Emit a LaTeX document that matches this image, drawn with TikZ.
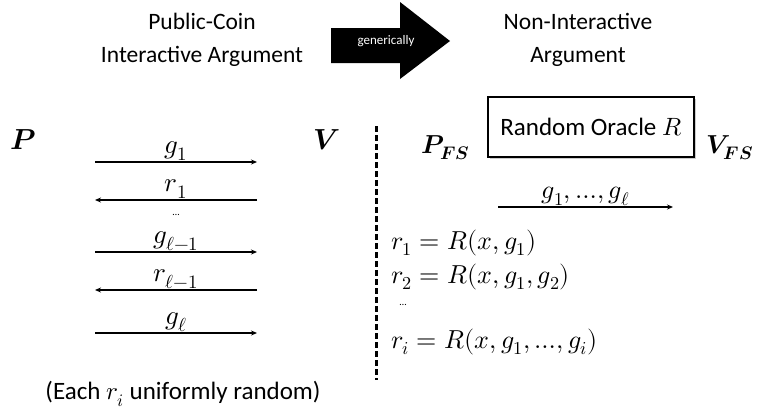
\documentclass[tikz,border=0pt]{standalone}
\usepackage{fontspec}
\usepackage{unicode-math}
\setmainfont{Carlito}
\setmathfont{Latin Modern Math}
\usetikzlibrary{arrows.meta,shadows}
\begin{document}
\begin{tikzpicture}[x=1pt,y=-1pt,
  msg/.style={line width=1.2pt,-{Stealth[length=6pt,width=5pt]}},
  title/.style={font=\fontsize{23.5}{33}\selectfont,align=center,inner sep=0pt},
  party/.style={font=\fontsize{29}{32}\selectfont,inner sep=0pt},
  fsparty/.style={font=\fontsize{26}{30}\selectfont,inner sep=0pt,anchor=west},
  lab/.style={font=\fontsize{27}{28}\selectfont,inner sep=1pt},
  eq/.style={font=\fontsize{26}{28}\selectfont,inner sep=0pt,anchor=west}]
\useasboundingbox (0,0) rectangle (760,413);
% titles
\node[title] (left) at (202,40) {Public-Coin\\Interactive Argument};
\node[title] (right) at (578,40) {Non-Interactive\\Argument};
% big arrow
\fill[black] (331,28) -- (400,28) -- (400,2) -- (450,41) -- (400,79) -- (400,63) -- (331,63) -- cycle;
\node[text=white,font=\fontsize{13}{14}\selectfont,inner sep=0pt] (gen) at (386,41) {generically};
% left protocol
\node[party] (P) at (23,140) {$\symbfit{P}$};
\node[party] (V) at (327,140) {$\symbfit{V}$};
\foreach \n/\y in {1/162,2/200,3/252,4/290,5/333}{
  \coordinate (l\n) at (95,\y);
  \coordinate (r\n) at (257,\y);
}
\draw[msg] (l1) -- node[lab,above] {$g_1$} (r1);
\draw[msg] (r2) -- node[lab,above] {$r_1$} (l2);
\node[font=\fontsize{10}{10}\selectfont,inner sep=0pt] (dots1) at (176,215) {…};
\draw[msg] (l3) -- node[lab,above] {$g_{\ell-1}$} (r3);
\draw[msg] (r4) -- node[lab,above] {$r_{\ell-1}$} (l4);
\draw[msg] (l5) -- node[lab,above] {$g_{\ell}$} (r5);
\node[font=\fontsize{25}{28}\selectfont,inner sep=0pt] (note) at (183,394) {(Each $r_i$ uniformly random)};
% divider
\coordinate (dtop) at (376,126);
\coordinate (dbot) at (376,380);
\draw[line width=3pt,dash pattern=on 6pt off 3pt] (dtop) -- (dbot);
% right protocol
\node[fsparty] (PFS) at (421,148) {$\symbfit{P}_{\symbfit{FS}}$};
\node[draw,line width=1.2pt,fill=white,drop shadow={shadow xshift=2pt,shadow yshift=-2pt,opacity=0.4},
  minimum width=206pt,minimum height=60pt,inner sep=0pt,font=\fontsize{25}{28}\selectfont] (RO) at (591,127) {Random Oracle $R$};
\node[fsparty] (VFS) at (706,148) {$\symbfit{V}_{\symbfit{FS}}$};
\coordinate (fl) at (498,207);
\coordinate (fr) at (673,207);
\draw[msg] (fl) -- node[lab,above,font=\fontsize{26}{28}\selectfont] {$g_1,…,g_\ell$} (fr);
\node[eq] (e1) at (391,243) {$r_1=R(x,g_1)$};
\node[eq] (e2) at (391,277) {$r_2=R(x,g_1,g_2)$};
\node[font=\fontsize{10}{10}\selectfont,inner sep=0pt] (dots2) at (403,305) {…};
\node[eq] (e3) at (391,342) {$r_i=R(x,g_1,…,g_i)$};
\end{tikzpicture}
\end{document}
